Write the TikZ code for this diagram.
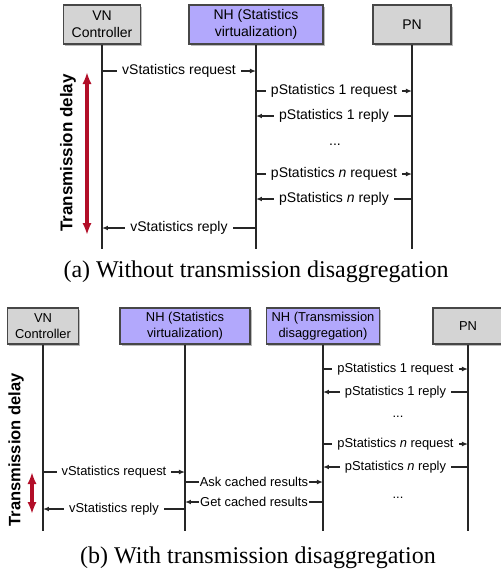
\documentclass[tikz,border=0pt]{standalone}
\usepackage{fontspec}
\setmainfont{Liberation Serif}
\setsansfont{Liberation Sans}
\usepackage{xcolor}
\usepackage{tikz}
\usetikzlibrary{arrows.meta, shadows, positioning, calc}
\definecolor{boxgray}{RGB}{212,212,212}
\definecolor{nhpurple}{RGB}{178,168,252}
\definecolor{delayred}{RGB}{178,14,40}
\tikzset{
  >=Latex,
  actor/.style   = {draw=black!72, line width=0.6pt, fill=boxgray,
                    align=center, inner sep=1pt,
                    drop shadow={shadow xshift=0.9pt, shadow yshift=-0.9pt,
                                 opacity=0.45, fill=black!60}},
  nhbox/.style   = {actor, fill=nhpurple},
  fonta/.style   = {font=\sffamily\fontsize{7}{8.7}\selectfont},
  fontb/.style   = {font=\sffamily\fontsize{6.45}{8}\selectfont},
  life/.style    = {line width=0.65pt, black!85},
  msg/.style     = {line width=0.6pt, black!85, -{Latex[length=3pt,width=2.4pt]}},
  lbl/.style     = {fill=white, inner xsep=2.5pt, inner ysep=1pt, text=black},
  tight/.style   = {lbl, inner xsep=0.4pt},
  delay/.style   = {{Latex[length=6pt,width=4.6pt]}-{Latex[length=6pt,width=4.6pt]},
                    line width=1.6pt, delayred},
  delaytxt/.style= {rotate=90, font=\sffamily\bfseries\fontsize{8.5}{10}\selectfont},
  caption/.style = {font=\fontsize{12}{14}\selectfont},
}
\begin{document}
\begin{tikzpicture}[x=0.5pt, y=-0.5pt]
  \useasboundingbox (0,0) rectangle (501,575);

  % ---------- (a) without disaggregation -----------------------------
  \node[actor, fonta, minimum width=38.5pt, minimum height=19.5pt] (vnA) at (102,24.5) {VN\\Controller};
  \node[nhbox, fonta, minimum width=67pt, minimum height=19.5pt] (nhA) at (256,24.5) {NH (Statistics\\virtualization)};
  \node[actor, fonta, minimum width=39pt, minimum height=19.5pt] (pnA) at (412,24.5) {PN};

  \coordinate (endA) at (0,249);
  \foreach \n in {vnA, nhA, pnA}
    \draw[life] (\n.south) -- (\n |- endA);

  \coordinate (a1) at (0,71);
  \coordinate (a2) at (0,91);
  \coordinate (a3) at (0,116);
  \coordinate (a4) at (0,174);
  \coordinate (a5) at (0,199);
  \coordinate (a6) at (0,228);

  \begin{scope}[every node/.style={fonta}]
    \draw[msg] (vnA |- a1) -- node[lbl] {vStatistics request} (nhA |- a1);
    \draw[msg] (nhA |- a2) -- node[lbl] {pStatistics 1 request} (pnA |- a2);
    \draw[msg] (pnA |- a3) -- node[lbl] {pStatistics 1 reply} (nhA |- a3);
    \node (dotsA) at (335,145) {...};
    \draw[msg] (nhA |- a4) -- node[lbl] {pStatistics \textit{n} request} (pnA |- a4);
    \draw[msg] (pnA |- a5) -- node[lbl] {pStatistics \textit{n} reply} (nhA |- a5);
    \draw[msg] (nhA |- a6) -- node[lbl] {vStatistics reply} (vnA |- a6);
  \end{scope}

  % delay marker
  \coordinate (dA1) at (87,72);
  \coordinate (dA2) at (87,235);
  \draw[delay] (dA1) -- (dA2);
  \node[delaytxt] (delA) at (68,153) {Transmission delay};

  \node[caption] (capA) at (256,272) {(a) Without transmission disaggregation};

  % ---------- (b) with disaggregation --------------------------------
  \node[actor, fontb, minimum width=35.5pt, minimum height=18pt] (vnB) at (43,326) {VN\\Controller};
  \node[nhbox, fontb, minimum width=65pt, minimum height=18pt] (nhsB) at (185,326) {NH (Statistics\\virtualization)};
  \node[nhbox, fontb, minimum width=56.5pt, minimum height=18pt] (nhtB) at (323,326) {NH (Transmission\\disaggregation)};
  \node[actor, fontb, minimum width=35pt, minimum height=18pt] (pnB) at (468,326) {PN};

  \coordinate (endB) at (0,531);
  \foreach \n in {vnB, nhsB, nhtB, pnB}
    \draw[life] (\n.south) -- (\n |- endB);

  \coordinate (b1) at (0,369);
  \coordinate (b2) at (0,392);
  \coordinate (b3) at (0,444);
  \coordinate (b4) at (0,467);
  \coordinate (b5) at (0,472);
  \coordinate (b6) at (0,482);
  \coordinate (b7) at (0,502);
  \coordinate (b8) at (0,509);

  \begin{scope}[every node/.style={fontb}]
    \draw[msg] (nhtB |- b1) -- node[lbl] {pStatistics 1 request} (pnB |- b1);
    \draw[msg] (pnB |- b2) -- node[lbl] {pStatistics 1 reply} (nhtB |- b2);
    \node (dotsB1) at (398,417) {...};
    \draw[msg] (nhtB |- b3) -- node[lbl] {pStatistics \textit{n} request} (pnB |- b3);
    \draw[msg] (pnB |- b4) -- node[lbl] {pStatistics \textit{n} reply} (nhtB |- b4);
    \node (dotsB2) at (398,498) {...};
    \draw[msg] (vnB |- b5) -- node[lbl] {vStatistics request} (nhsB |- b5);
    \draw[msg] (nhsB |- b6) -- node[tight] {Ask cached results} (nhtB |- b6);
    \draw[msg] (nhtB |- b7) -- node[tight] {Get cached results} (nhsB |- b7);
    \draw[msg] (nhsB |- b8) -- node[lbl] {vStatistics reply} (vnB |- b8);
  \end{scope}

  % delay marker
  \coordinate (dB1) at (32,472);
  \coordinate (dB2) at (32,514);
  \draw[delay] (dB1) -- (dB2);
  \node[delaytxt, font=\sffamily\bfseries\fontsize{8.25}{10}\selectfont] (delB) at (16,450) {Transmission delay};

  \node[caption] (capB) at (258,558) {(b) With transmission disaggregation};
\end{tikzpicture}
\end{document}
